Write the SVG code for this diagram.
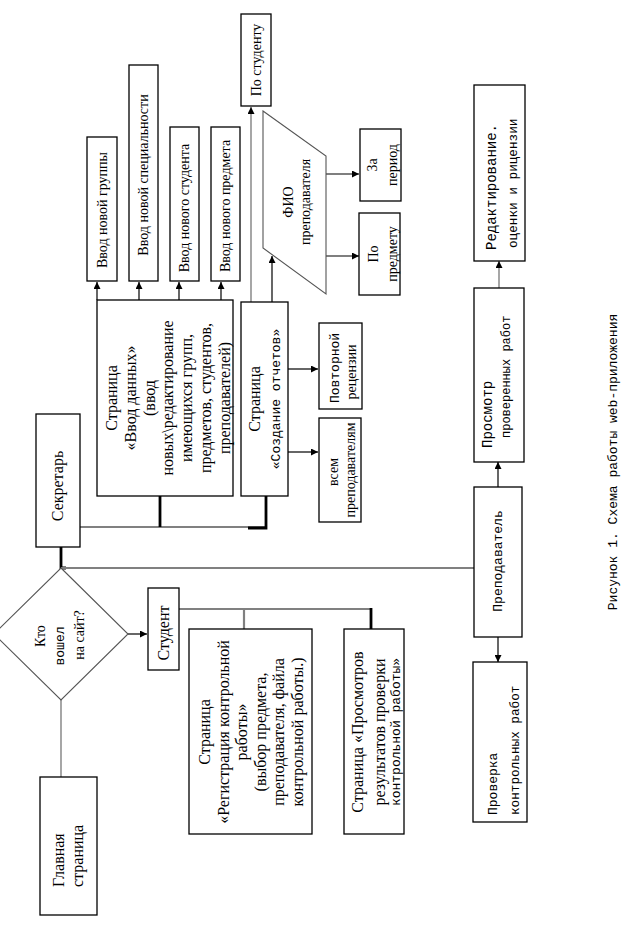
<svg xmlns="http://www.w3.org/2000/svg" width="635" height="932" viewBox="0 0 635 932">
<style>
.box{fill:#fff;stroke:#000;stroke-width:1.3}
.shp{fill:#fff;stroke:#555;stroke-width:1.1}
.t{font-family:"Liberation Serif","Times New Roman",serif;font-size:16px;fill:#000;text-anchor:middle;dominant-baseline:central}
.s{font-size:14px}
.m{font-family:"Liberation Mono","Courier New",monospace;font-size:13px;fill:#000;text-anchor:middle;dominant-baseline:central}
.ln{stroke:#000;stroke-width:1.2;fill:none}
.gr{stroke:#808080;stroke-width:2.2;fill:none}
.gt{stroke:#777;stroke-width:1.3;fill:none}
.bk{stroke:#000;stroke-width:2.8;fill:none}
</style>
<defs>
<marker id="ah" viewBox="0 0 10 10" refX="10" refY="5" markerWidth="7" markerHeight="7" markerUnits="userSpaceOnUse" orient="auto">
<path d="M0,0 L10,5 L0,10 z" fill="#000"/>
</marker>
</defs>
<rect width="635" height="932" fill="#fff"/>

<g id="connectors">
<path class="ln" d="M97,300 V282" marker-end="url(#ah)"/>
<path class="ln" d="M139,300 V282" marker-end="url(#ah)"/>
<path class="ln" d="M179,300 V282" marker-end="url(#ah)"/>
<path class="ln" d="M221,300 V282" marker-end="url(#ah)"/>
<path class="gt" d="M251,302 V107" marker-end="url(#ah)"/>
<path class="ln" d="M272,302 V256" marker-end="url(#ah)"/>
<path class="ln" d="M326,174 H359" marker-end="url(#ah)"/>
<path class="ln" d="M326,256 H359" marker-end="url(#ah)"/>
<path class="ln" d="M288,369 H318" marker-end="url(#ah)"/>
<path class="ln" d="M288,452 H318" marker-end="url(#ah)"/>
<path class="gr" d="M80,527 H266"/>
<path class="bk" d="M160,496 V527"/>
<path class="bk" d="M266,496 V528 H248"/>
<path class="bk" d="M61,547 V568 H66"/>
<path class="gr" d="M61,568 H474"/>
<path class="ln" d="M128,634 H147" marker-end="url(#ah)"/>
<path class="gt" d="M61,700 V777"/>
<path class="gr" d="M179,609 H371"/>
<path class="gr" d="M244,609 V629"/>
<path class="bk" d="M371,608 V629"/>
<path class="ln" d="M498,487 V462" marker-end="url(#ah)"/>
<path class="gt" d="M499,288 V261" marker-end="url(#ah)"/>
<path class="ln" d="M498,637 V662" marker-end="url(#ah)"/>
</g>

<g id="n-group"><rect class="box" x="87" y="137" width="30" height="144"/>
<text class="t s" transform="translate(102,210) rotate(-90)">Ввод новой группы</text></g>
<g id="n-spec"><rect class="box" x="129" y="65" width="29" height="216"/>
<text class="t s" transform="translate(143.5,175) rotate(-90)">Ввод новой специальности</text></g>
<g id="n-student-new"><rect class="box" x="170" y="127" width="29" height="154"/>
<text class="t s" transform="translate(184.5,208) rotate(-90)">Ввод нового студента</text></g>
<g id="n-subject-new"><rect class="box" x="211" y="127" width="29" height="154"/>
<text class="t s" transform="translate(225.5,206) rotate(-90)">Ввод нового предмета</text></g>
<g id="n-by-student"><rect class="box" x="241" y="14" width="30" height="92"/>
<text class="t s" transform="translate(256,60) rotate(-90)">По студенту</text></g>

<g id="n-fio"><polygon class="shp" points="263,111 326,156 326,294 263,248"/>
<text class="t s" transform="translate(288,202) rotate(-90)"><tspan x="0" dy="0">ФИО</tspan><tspan x="0" dy="17">преподавателя</tspan></text></g>
<g id="n-period"><rect class="box" x="360" y="129" width="41" height="72"/>
<text class="t s" transform="translate(372,165) rotate(-90)"><tspan x="0" dy="0">За</tspan><tspan x="0" dy="20">период</tspan></text></g>
<g id="n-by-subject"><rect class="box" x="359" y="213" width="41" height="82"/>
<text class="t s" transform="translate(373,254) rotate(-90)"><tspan x="0" dy="0">По</tspan><tspan x="0" dy="19">предмету</tspan></text></g>

<g id="n-data"><rect class="box" x="97" y="300" width="136" height="196"/>
<text class="t" transform="translate(111,398) rotate(-90)"><tspan x="0" dy="0">Страница</tspan><tspan x="0" dy="18.8">«Ввод данных»</tspan><tspan x="0" dy="18.8">(ввод</tspan><tspan x="0" dy="18.8">новых\редактирование</tspan><tspan x="0" dy="18.8">имеющихся групп,</tspan><tspan x="0" dy="18.8">предметов, студентов,</tspan><tspan x="0" dy="18.8">преподавателей)</tspan></text></g>
<g id="n-reports"><rect class="box" x="241" y="302" width="47" height="194"/>
<text class="t" transform="translate(254,399) rotate(-90)">Страница</text>
<text class="m" transform="translate(276,399) rotate(-90)">«Создание отчетов»</text></g>
<g id="n-rereview"><rect class="box" x="319" y="323" width="43" height="86"/>
<text class="m" transform="translate(335,368) rotate(-90)">Повторной</text>
<text class="t s" transform="translate(351,372) rotate(-90)">рецензии</text></g>
<g id="n-all-teachers"><rect class="box" x="319" y="418" width="42" height="104"/>
<text class="t s" transform="translate(333,472) rotate(-90)">всем</text>
<text class="t s" transform="translate(350,470) rotate(-90)">преподавателям</text></g>

<g id="n-secretary"><rect class="box" x="36" y="414" width="44" height="133"/>
<text class="t" transform="translate(57,486) rotate(-90)">Секретарь</text></g>

<g id="n-who"><polygon class="shp" points="61,568 128,634 61,700 -6,634"/>
<text class="t s" transform="translate(40,636) rotate(-90)">Кто</text>
<text class="m" transform="translate(60,646) rotate(-90)">вошел</text>
<text class="t s" transform="translate(79,635) rotate(-90)">на сайт?</text></g>

<g id="n-main"><rect class="box" x="40" y="777" width="57" height="138"/>
<text class="t" style="text-anchor:start" transform="translate(58,887) rotate(-90)">Главная</text>
<text class="t" style="text-anchor:start" transform="translate(77,887) rotate(-90)">страница</text></g>

<g id="n-student"><rect class="box" x="148" y="588" width="31" height="82"/>
<text class="t" transform="translate(163,633) rotate(-90)">Студент</text></g>

<g id="n-register"><rect class="box" x="189" y="629" width="123" height="205"/>
<text class="t" transform="translate(204,732) rotate(-90)"><tspan x="0" dy="0">Страница</tspan><tspan x="0" dy="18.6">«Регистрация контрольной</tspan><tspan x="0" dy="18.6">работы»</tspan><tspan x="0" dy="18.6">(выбор предмета,</tspan><tspan x="0" dy="18.6">преподавателя, файла</tspan><tspan x="0" dy="18.6">контрольной работы.)</tspan></text></g>

<g id="n-results"><rect class="box" x="344" y="629" width="60" height="205"/>
<text class="t" transform="translate(357,732) rotate(-90)">Страница «Просмотров</text>
<text class="t" transform="translate(379,732) rotate(-90)">результатов проверки</text>
<text class="m" transform="translate(396,732) rotate(-90)">контрольной работы»</text></g>

<g id="n-teacher"><rect class="box" x="474" y="487" width="48" height="150"/>
<text class="m" transform="translate(498,561) rotate(-90)">Преподаватель</text></g>
<g id="n-view-checked"><rect class="box" x="474" y="288" width="50" height="174"/>
<text class="m" style="text-anchor:start;font-size:14px" transform="translate(488,448) rotate(-90)">Просмотр</text>
<text class="m" style="text-anchor:start;font-size:12px" transform="translate(507,438) rotate(-90)">проверенных работ</text></g>
<g id="n-edit"><rect class="box" x="474" y="85" width="51" height="176"/>
<text class="m" style="text-anchor:start;font-size:14px" transform="translate(492,250) rotate(-90)">Редактирование.</text>
<text class="m" style="text-anchor:start;font-size:12.7px" transform="translate(513,248) rotate(-90)">оценки и рицензии</text></g>
<g id="n-check"><rect class="box" x="473" y="662" width="54" height="160"/>
<text class="m" style="text-anchor:start;font-size:13px" transform="translate(493,815) rotate(-90)">Проверка</text>
<text class="m" style="text-anchor:start;font-size:12.7px" transform="translate(515,815) rotate(-90)">контрольных работ</text></g>

<g id="caption">
<text class="m" transform="translate(613,462) rotate(-90)">Рисунок 1. Схема работы web-приложения</text>
</g>
</svg>
